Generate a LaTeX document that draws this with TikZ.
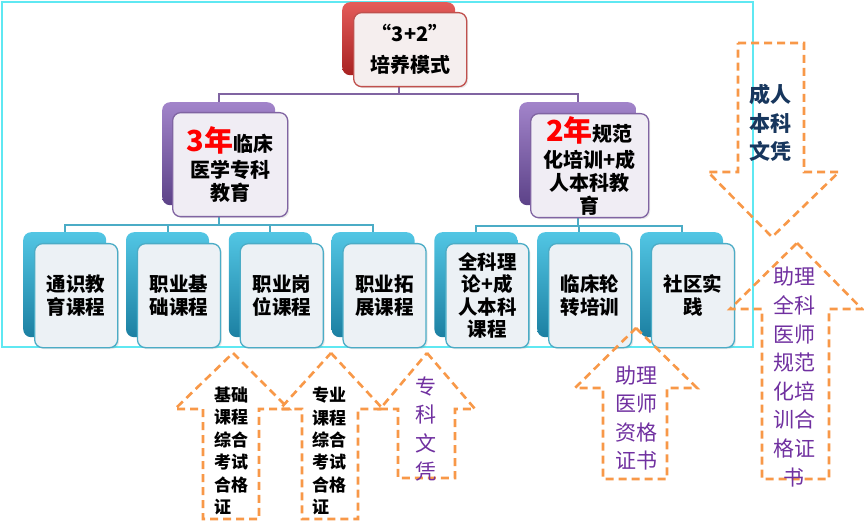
\documentclass[tikz,border=0pt]{standalone}
\usepackage{fontspec}
\newfontfamily\cjk{Noto Sans CJK SC}
\usetikzlibrary{shadows}
\definecolor{cyanframe}{RGB}{95,232,242}
\definecolor{redtop}{RGB}{228,92,90}
\definecolor{redbot}{RGB}{168,34,34}
\definecolor{redline}{RGB}{192,80,77}
\definecolor{redfill}{RGB}{245,238,238}
\definecolor{purtop}{RGB}{162,132,202}
\definecolor{purbot}{RGB}{92,66,136}
\definecolor{purline}{RGB}{128,100,162}
\definecolor{purfill}{RGB}{240,237,244}
\definecolor{cyatop}{RGB}{82,198,228}
\definecolor{cyabot}{RGB}{28,128,162}
\definecolor{cyaline}{RGB}{75,172,198}
\definecolor{cyafill}{RGB}{236,241,245}
\definecolor{orangeA}{RGB}{248,152,72}
\definecolor{purtext}{RGB}{112,48,160}
\definecolor{navytext}{RGB}{23,54,93}
\begin{document}
\begin{tikzpicture}[x=1pt,y=-1pt,
  backbox/.style={anchor=north west, rounded corners=8pt, inner sep=0pt, draw=none},
  redback/.style={backbox, top color=redtop, bottom color=redbot},
  purback/.style={backbox, top color=purtop, bottom color=purbot},
  cyaback/.style={backbox, top color=cyatop, bottom color=cyabot, minimum width=83pt, minimum height=105pt},
  frontbox/.style={anchor=north west, rounded corners=8pt, inner sep=0pt, line width=1.3pt, align=center, text=black,
     drop shadow={opacity=0.18, shadow xshift=1.5pt, shadow yshift=-1.5pt}},
  redfront/.style={frontbox, draw=redline, fill=redfill, font=\cjk\bfseries\fontsize{20}{31}\selectfont},
  purfront/.style={frontbox, draw=purline, fill=purfill, font=\cjk\bfseries\fontsize{20}{23}\selectfont},
  cyafront/.style={frontbox, draw=cyaline, fill=cyafill, minimum width=83pt, minimum height=104pt, font=\cjk\bfseries\fontsize{19.5}{22.5}\selectfont},
  purconn/.style={draw=purline, line width=2pt},
  cyaconn/.style={draw=cyaline, line width=2pt},
  dasharrow/.style={draw=orangeA, line width=2.6pt, dash pattern=on 8pt off 5pt, line join=miter},
  blacktxt/.style={align=left, inner sep=0pt, text=black, font=\cjk\bfseries\fontsize{17}{22.4}\selectfont},
  purtxt/.style={align=center, inner sep=0pt, text=purtext, font=\cjk\fontsize{21}{28.6}\selectfont},
  navytxt/.style={align=center, inner sep=0pt, text=navytext, font=\cjk\bfseries\fontsize{21}{28.5}\selectfont}
]
\useasboundingbox (0,0) rectangle (864,521);
\fill[white] (0,0) rectangle (864,521);
\draw[cyanframe, line width=1.2pt] (2,2) rectangle (753,347);

% back boxes
\node[redback, minimum width=113pt, minimum height=73pt] (topb) at (342,2) {};
\node[purback, minimum width=113pt, minimum height=103pt] (l2ab) at (162,102) {};
\node[purback, minimum width=117pt, minimum height=103pt] (l2bb) at (519,102) {};
\foreach \i in {1,...,7} {
  \pgfmathsetmacro{\bx}{23+102.8*(\i-1)}
  \node[cyaback] (c\i b) at (\bx,232) {};
}

% connectors
\draw[purconn] (topb.south) -- ++(0,19) -| (l2ab.north);
\draw[purconn] (topb.south) -- ++(0,19) -| (l2bb.north);
\foreach \i in {1,...,4} {\draw[cyaconn] (l2ab.south) -- ++(0,20) -| (c\i b.north);}
\foreach \i in {5,6,7} {\draw[cyaconn] (l2bb.south) -- ++(0,21) -| (c\i b.north);}

% front boxes
\node[redfront, minimum width=113pt, minimum height=74pt] (topf) at (353,12) {“3+2”\\培养模式};
\node[purfront, minimum width=115pt, minimum height=104pt] (l2af) at (172,112)
  {{\fontsize{29}{29}\selectfont\color{red}3年}临床\\[3pt]医学专科\\教育};
\node[purfront, minimum width=118pt, minimum height=104pt] (l2bf) at (530,113)
  {{\fontsize{29}{29}\selectfont\color{red}2年}规范\\[3pt]化培训+成\\人本科教\\育};

\node[cyafront] (c1f) at (34,243) {通识教\\育课程};
\node[cyafront] (c2f) at (136.8,243) {职业基\\础课程};
\node[cyafront] (c3f) at (239.6,243) {职业岗\\位课程};
\node[cyafront] (c4f) at (342.4,243) {职业拓\\展课程};
\node[cyafront] (c5f) at (445.2,243) {全科理\\论+成\\人本科\\课程};
\node[cyafront] (c6f) at (548,243) {临床轮\\转培训};
\node[cyafront] (c7f) at (650.8,243) {社区实\\践};

% dashed block arrows
\draw[dasharrow] (233,353) -- (289,409) -- (259,409) -- (259,519) -- (203,519) -- (203,409) -- (175,409) -- cycle;
\draw[dasharrow] (331,353) -- (383,409) -- (358,409) -- (358,519) -- (302,519) -- (302,409) -- (280,409) -- cycle;
\draw[dasharrow] (427,353) -- (475,409) -- (455,409) -- (455,478) -- (398,478) -- (398,409) -- (380,409) -- cycle;
\draw[dasharrow] (636,328) -- (697,388) -- (667,388) -- (667,479) -- (603,479) -- (603,388) -- (575,388) -- cycle;
\draw[dasharrow] (797,243) -- (862,309) -- (829,309) -- (829,479) -- (762,479) -- (762,309) -- (730,309) -- cycle;
\draw[dasharrow] (738,43) -- (804,43) -- (804,172) -- (839,172) -- (772,237) -- (708,172) -- (738,172) -- cycle;

% arrow texts
\node[blacktxt] (t1) at (231,451) {基础\\课程\\综合\\考试\\合格\\证};
\node[blacktxt] (t2) at (329,451) {专业\\课程\\综合\\考试\\合格\\证};
\node[purtxt] (t3) at (426,429) {专\\科\\文\\凭};
\node[purtxt] (t4) at (636,418) {助理\\医师\\资格\\证书};
\node[purtxt] (t5) at (794,377) {助理\\全科\\医师\\规范\\化培\\训合\\格证\\书};
\node[navytxt] (t6) at (770,123) {成人\\本科\\文凭};
\end{tikzpicture}
\end{document}
